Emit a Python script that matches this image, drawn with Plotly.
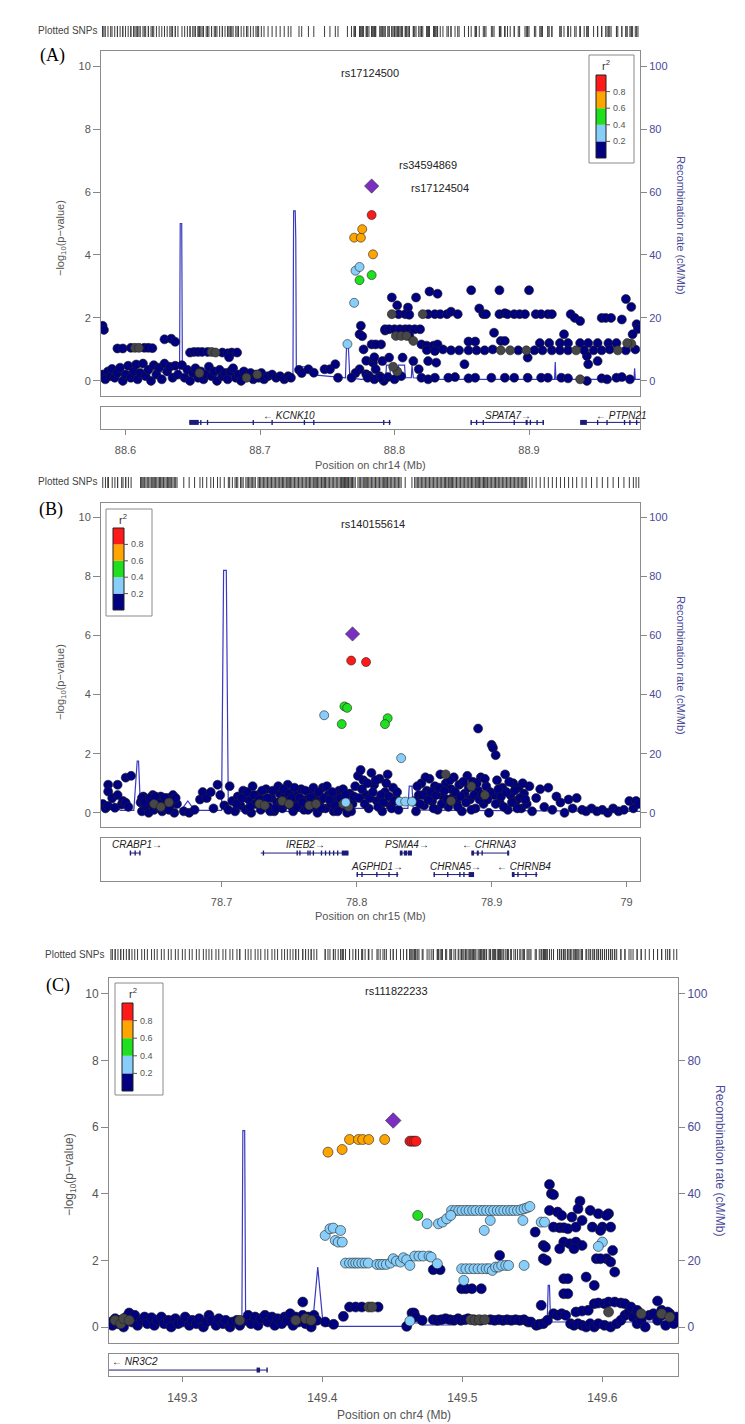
import plotly.graph_objects as go

W, H = 745, 1424
FONT = "Liberation Sans, Arial, sans-serif"

# ======================= DATA =======================
# ---------- Panel A : chr14 ----------
A_RANGE = [88.5818, 88.9825]
A_TICKS = [88.6, 88.7, 88.8, 88.9]
A_TICKTEXT = ["88.6", "88.7", "88.8", "88.9"]
A_XLABEL = "Position on chr14 (Mb)"
A_NAVY = [
    (88.583, 1.75), (88.584, 1.62),
    (88.594, 1.03), (88.598, 1.03), (88.604, 1.05), (88.614, 1.05), (88.617, 1.05), (88.620, 1.04),
    (88.629, 1.32), (88.634, 1.34), (88.637, 1.24),
    (88.648, 0.9), (88.651, 0.92), (88.654, 0.92), (88.657, 0.92), (88.661, 0.92), (88.672, 0.9),
    (88.676, 0.88), (88.679, 0.9), (88.677, 0.75), (88.683, 0.9),
    (88.583, 0.2), (88.585, 0.05), (88.587, 0.3), (88.589, 0.15), (88.590, 0.38), (88.592, 0.1),
    (88.594, 0.25), (88.596, 0.42), (88.598, 0.0), (88.600, 0.2), (88.602, 0.48), (88.604, 0.1),
    (88.606, 0.3), (88.608, 0.52), (88.609, 0.05), (88.611, 0.25), (88.613, 0.55), (88.615, 0.15),
    (88.617, 0.35), (88.619, 0.0), (88.621, 0.5), (88.623, 0.2), (88.625, 0.42), (88.627, 0.05),
    (88.629, 0.55), (88.631, 0.3), (88.633, 0.45), (88.635, 0.1), (88.637, 0.48), (88.639, 0.2),
    (88.642, 0.5), (88.644, 0.1), (88.646, 0.35), (88.648, 0.0), (88.650, 0.25), (88.652, 0.4),
    (88.654, 0.1), (88.656, 0.3), (88.658, 0.05), (88.660, 0.2), (88.662, 0.45), (88.664, 0.15),
    (88.666, 0.3), (88.668, 0.0), (88.670, 0.35), (88.672, 0.15), (88.674, 0.25), (88.676, 0.05),
    (88.678, 0.3), (88.680, 0.4), (88.682, 0.1), (88.684, 0.2), (88.686, 0.0), (88.688, 0.3),
    (88.691, 0.15), (88.693, 0.25), (88.695, 0.05), (88.697, 0.2), (88.699, 0.1), (88.701, 0.25),
    (88.703, 0.05), (88.706, 0.15), (88.709, 0.2), (88.712, 0.1), (88.715, 0.15), (88.718, 0.05),
    (88.721, 0.15), (88.723, 0.1),
    (88.729, 0.35), (88.731, 0.25), (88.736, 0.37), (88.740, 0.26), (88.748, 0.37), (88.752, 0.37),
    (88.756, 0.53), (88.758, 0.1),
    (88.775, 1.75), (88.774, 1.48), (88.776, 1.42), (88.777, 1.0), (88.783, 1.16), (88.790, 1.16),
    (88.779, 0.64), (88.784, 0.58), (88.774, 0.37), (88.779, 0.21), (88.781, 0.16), (88.792, 0.0),
    (88.789, 0.15), (88.793, 1.6), (88.786, 0.37), (88.771, 0.25), (88.768, 0.1),
    (88.798, 2.65), (88.816, 2.65), (88.802, 2.4), (88.810, 2.33), (88.826, 2.84), (88.832, 2.77),
    (88.857, 2.88), (88.878, 2.88), (88.900, 2.88),
    (88.803, 2.12), (88.808, 2.12), (88.811, 2.1), (88.825, 2.12), (88.830, 2.12), (88.834, 2.12),
    (88.839, 2.12), (88.842, 2.2), (88.847, 2.12), (88.863, 2.3), (88.866, 2.12), (88.868, 2.12),
    (88.878, 2.12), (88.882, 2.15), (88.884, 2.12), (88.889, 2.12), (88.893, 2.12), (88.897, 2.12),
    (88.905, 2.12), (88.909, 2.12), (88.914, 2.12), (88.917, 2.12), (88.931, 2.12), (88.934, 2.0),
    (88.938, 1.9), (88.954, 2.0), (88.957, 2.0), (88.961, 2.0), (88.969, 1.95), (88.972, 2.6),
    (88.976, 2.35), (88.980, 1.8), (88.981, 1.65),
    (88.793, 1.64), (88.796, 1.64), (88.800, 1.64), (88.804, 1.64), (88.808, 1.64), (88.811, 1.64),
    (88.815, 1.64), (88.819, 1.64), (88.811, 1.43),
    (88.874, 1.53), (88.926, 1.48), (88.852, 0.53), (88.899, 0.74), (88.943, 0.79), (88.944, 0.53),
    (88.951, 0.63), (88.977, 1.48),
    (88.786, 1.16), (88.820, 1.16), (88.824, 1.12), (88.829, 1.12), (88.832, 1.16), (88.855, 1.25),
    (88.860, 1.25), (88.879, 1.27), (88.882, 1.27), (88.908, 1.2), (88.915, 1.2), (88.923, 1.2),
    (88.929, 1.2), (88.938, 1.2), (88.944, 1.2), (88.951, 1.2), (88.959, 1.2), (88.965, 1.2),
    (88.824, 0.98), (88.830, 0.95), (88.836, 1.0), (88.842, 0.97), (88.848, 0.97), (88.855, 0.97),
    (88.861, 0.97), (88.867, 0.97), (88.873, 1.0), (88.892, 0.97), (88.904, 0.97), (88.910, 0.97),
    (88.917, 0.97), (88.923, 0.97), (88.929, 0.97), (88.941, 0.97), (88.948, 0.97), (88.954, 0.97),
    (88.960, 1.0), (88.972, 0.97), (88.979, 1.0),
    (88.780, 0.1), (88.785, 0.05), (88.790, 0.1), (88.795, 0.12), (88.800, 0.05), (88.805, 0.15),
    (88.820, 0.1), (88.825, 0.05), (88.830, 0.1), (88.840, 0.1), (88.845, 0.12), (88.855, 0.08),
    (88.860, 0.1), (88.872, 0.1), (88.882, 0.1), (88.889, 0.1), (88.899, 0.1), (88.909, 0.1),
    (88.914, 0.1), (88.924, 0.1), (88.929, 0.08), (88.943, 0.0), (88.954, 0.08), (88.958, 0.05),
    (88.965, 0.1), (88.969, 0.12), (88.975, 0.05),
    (88.785, 0.75), (88.791, 0.63), (88.796, 0.74), (88.806, 0.74), (88.814, 0.63), (88.818, 0.37),
    (88.825, 0.63), (88.831, 0.58),
]
A_GRAY = [
    (88.607, 1.05), (88.610, 1.05), (88.664, 0.92), (88.667, 0.9), (88.655, 0.25), (88.690, 0.1),
    (88.698, 0.2), (88.798, 2.12), (88.821, 2.12), (88.801, 1.43), (88.805, 1.43), (88.809, 1.43),
    (88.814, 1.27), (88.879, 0.97), (88.886, 0.97), (88.898, 0.97), (88.935, 0.97), (88.966, 0.97),
    (88.938, 0.05), (88.976, 1.18), (88.973, 1.2), (88.802, 0.3), (88.799, 0.45),
]
A_LBLUE = [(88.765, 1.17), (88.770, 2.48), (88.771, 3.5), (88.774, 3.62)]
A_GREEN = [(88.774, 3.2), (88.783, 3.36)]
A_ORANGE = [(88.770, 4.55), (88.775, 4.55), (88.776, 4.82), (88.784, 4.02)]
A_RED = [(88.783, 5.27)]
A_LEAD = [(88.783, 6.19)]
A_RECOMB = [
    (88.5818, 2.0), (88.590, 2.5), (88.600, 3.0), (88.612, 3.0), (88.620, 3.5), (88.630, 2.5),
    (88.6402, 2.0), (88.6407, 50), (88.6418, 50), (88.6423, 4.0), (88.650, 3.0), (88.660, 2.0),
    (88.680, 1.5), (88.700, 1.5), (88.715, 2.0), (88.7245, 1.5), (88.7250, 54), (88.7262, 54),
    (88.7266, 45), (88.7270, 4.5), (88.735, 4.5), (88.738, 2.0), (88.750, 1.5), (88.7635, 1.0),
    (88.7645, 12.7), (88.7655, 12.7), (88.7668, 1.0), (88.775, 0.5), (88.790, 0.8), (88.7935, 1.0),
    (88.794, 5.0), (88.7965, 5.0), (88.797, 1.0), (88.8025, 1.0), (88.803, 5.0), (88.8075, 5.0),
    (88.808, 1.0), (88.8125, 1.0), (88.813, 5.0), (88.814, 1.0), (88.830, 0.5), (88.919, 0.5),
    (88.9195, 6.0), (88.920, 0.5), (88.978, 0.5), (88.9785, 4.0), (88.979, 0.5), (88.9825, 0.5),
]
# gene: name, start, end, strand, label x, row, exons
A_GENES = [
    ("KCNK10", 88.6474, 88.7973, "-", 88.7214, 0,
     [(88.6474, 88.6545), (88.6555, 88.6565), (88.6605, 88.6615), (88.6945, 88.6955),
      (88.7085, 88.7095), (88.7325, 88.7335), (88.7395, 88.7405), (88.7915, 88.7925),
      (88.7958, 88.7968)]),
    ("SPATA7", 88.8565, 88.9111, "+", 88.884, 0,
     [(88.8565, 88.8575), (88.8605, 88.8615), (88.8655, 88.8665), (88.8885, 88.8895),
      (88.8975, 88.8990), (88.9005, 88.9015), (88.9055, 88.9065), (88.9100, 88.9111)]),
    ("PTPN21", 88.938, 88.995, "-", 88.969, 0,
     [(88.938, 88.943), (88.9505, 88.9515), (88.9575, 88.9585), (88.9705, 88.9715),
      (88.9745, 88.9755), (88.9795, 88.9805)]),
]
A_SNP_LABELS = [("rs17124500", 88.7818, 9.78), ("rs34594869", 88.825, 6.86),
                ("rs17124504", 88.834, 6.13)]

# ---------- Panel B : chr15 ----------
B_RANGE = [78.6107, 79.0099]
B_TICKS = [78.7, 78.8, 78.9, 79.0]
B_TICKTEXT = ["78.7", "78.8", "78.9", "79"]
B_XLABEL = "Position on chr15 (Mb)"
B_NAVY = [
    (78.612, 0.3), (78.614, 0.15), (78.616, 0.95), (78.616, 0.72), (78.616, 0.23), (78.619, 0.5),
    (78.621, 0.17), (78.623, 0.95), (78.623, 0.6), (78.626, 0.28), (78.627, 0.4), (78.629, 1.19),
    (78.629, 0.34), (78.633, 1.25), (78.631, 0.2),
    (78.640, 0.35), (78.641, 0.05), (78.642, 0.55), (78.644, 0.2), (78.645, 0.45), (78.646, 0.0),
    (78.648, 0.3), (78.649, 0.6), (78.650, 0.1), (78.652, 0.4), (78.653, 0.2), (78.655, 0.55),
    (78.656, 0.05), (78.657, 0.35), (78.659, 0.15), (78.660, 0.5), (78.662, 0.25), (78.664, 0.6),
    (78.665, 0.0), (78.667, 0.3),
    (78.641, 0.5), (78.643, 0.35), (78.647, 0.5), (78.651, 0.55), (78.654, 0.3), (78.658, 0.5),
    (78.661, 0.1), (78.663, 0.4), (78.666, 0.5),
    (78.672, 0.05), (78.676, 0.0), (78.680, 0.1), (78.684, 0.45), (78.686, 0.7), (78.689, 0.5),
    (78.692, 0.7), (78.694, 0.15), (78.697, 0.95), (78.699, 0.6), (78.702, 0.25), (78.705, 0.1),
    (78.706, 0.9), (78.708, 0.4),
    (78.710, 0.05), (78.712, 0.55), (78.714, 0.25), (78.716, 0.75), (78.718, 0.1), (78.720, 0.45),
    (78.722, 0.0), (78.723, 0.9), (78.725, 0.3), (78.727, 0.6), (78.729, 0.1), (78.731, 0.45),
    (78.733, 0.8), (78.735, 0.2), (78.737, 0.5), (78.739, 0.05), (78.741, 0.35), (78.743, 0.65),
    (78.745, 0.15), (78.747, 0.55), (78.749, 0.95), (78.751, 0.25), (78.753, 0.05), (78.755, 0.6),
    (78.757, 0.35), (78.759, 0.8), (78.761, 0.1), (78.763, 0.45), (78.765, 0.7), (78.767, 0.2),
    (78.769, 0.55), (78.771, 0.0), (78.773, 0.4), (78.775, 0.85), (78.777, 0.15), (78.779, 0.6),
    (78.781, 0.3), (78.783, 0.05), (78.785, 0.5), (78.787, 0.75), (78.789, 0.2), (78.791, 0.45),
    (78.793, 0.0), (78.795, 0.65), (78.797, 0.3), (78.799, 0.9),
    (78.711, 0.3), (78.715, 0.5), (78.719, 0.7), (78.721, 0.2), (78.724, 0.6), (78.728, 0.45),
    (78.730, 0.75), (78.734, 0.5), (78.736, 0.05), (78.738, 0.75), (78.740, 0.15), (78.742, 0.9),
    (78.744, 0.4), (78.746, 0.8), (78.748, 0.3), (78.750, 0.65), (78.752, 0.5), (78.754, 0.85),
    (78.756, 0.2), (78.758, 0.5), (78.760, 0.35), (78.762, 0.75), (78.764, 0.1), (78.766, 0.5),
    (78.768, 0.85), (78.770, 0.35), (78.772, 0.7), (78.774, 0.15), (78.776, 0.5), (78.778, 0.9),
    (78.780, 0.45), (78.782, 0.7), (78.784, 0.25), (78.786, 0.05), (78.788, 0.5), (78.790, 0.8),
    (78.792, 0.6), (78.794, 0.35), (78.796, 0.05), (78.798, 0.55),
    (78.801, 1.25), (78.803, 1.45), (78.805, 1.1), (78.807, 0.6), (78.809, 0.15), (78.811, 1.35),
    (78.813, 0.95), (78.815, 0.4), (78.817, 1.15), (78.819, 0.05), (78.821, 0.7), (78.823, 1.3),
    (78.825, 0.25), (78.827, 0.85), (78.829, 0.5), (78.831, 0.1),
    (78.802, 0.5), (78.804, 0.8), (78.806, 0.3), (78.808, 1.0), (78.810, 0.5), (78.812, 0.7),
    (78.814, 1.1), (78.816, 0.2), (78.818, 0.6), (78.820, 0.35), (78.822, 1.0), (78.824, 0.55),
    (78.826, 0.15), (78.828, 0.4), (78.830, 0.7),
    (78.844, 0.05), (78.846, 0.6), (78.848, 1.0), (78.850, 0.25), (78.852, 0.75), (78.854, 1.15),
    (78.856, 0.4), (78.858, 0.9),
    (78.860, 0.1), (78.862, 1.3), (78.864, 0.55), (78.866, 1.0), (78.868, 0.2), (78.870, 0.8),
    (78.872, 1.2), (78.874, 0.35), (78.876, 0.95), (78.878, 0.05), (78.880, 0.65), (78.882, 1.25),
    (78.884, 0.45), (78.886, 1.05), (78.888, 0.15), (78.890, 2.85), (78.890, 0.75), (78.892, 1.2),
    (78.894, 0.3), (78.896, 0.9), (78.898, 0.0), (78.900, 2.3), (78.901, 2.2), (78.902, 0.6),
    (78.903, 1.95), (78.904, 1.1), (78.906, 0.35), (78.908, 0.85), (78.910, 1.3), (78.912, 0.1),
    (78.914, 0.6), (78.916, 1.0), (78.918, 0.4), (78.920, 0.85), (78.922, 0.15), (78.924, 0.65),
    (78.926, 0.3), (78.928, 0.9), (78.930, 0.05),
    (78.843, 0.4), (78.845, 0.9), (78.847, 0.3), (78.849, 0.6), (78.851, 1.2), (78.853, 0.45),
    (78.855, 0.7), (78.857, 0.15), (78.859, 0.6), (78.861, 0.85), (78.863, 0.3), (78.865, 0.75),
    (78.867, 0.45), (78.869, 1.1), (78.871, 0.5), (78.873, 0.7), (78.875, 0.2), (78.877, 0.55),
    (78.879, 1.05), (78.881, 0.35), (78.883, 0.85), (78.885, 0.1), (78.887, 0.6), (78.889, 1.0),
    (78.891, 0.45), (78.893, 0.6), (78.895, 1.15), (78.897, 0.45), (78.899, 0.7), (78.903, 0.3),
    (78.905, 0.8), (78.907, 0.55), (78.909, 0.2), (78.911, 0.7), (78.913, 1.05), (78.915, 0.35),
    (78.917, 0.75), (78.919, 0.15), (78.921, 0.5), (78.923, 1.0), (78.925, 0.45),
    (78.933, 0.5), (78.936, 0.8), (78.939, 0.2), (78.942, 0.85), (78.945, 0.1), (78.948, 0.55),
    (78.951, 0.35), (78.954, 0.0), (78.957, 0.45), (78.960, 0.15), (78.963, 0.5), (78.967, 0.1),
    (78.970, 0.05), (78.974, 0.15), (78.978, 0.05), (78.982, 0.1), (78.986, 0.0), (78.990, 0.15),
    (78.994, 0.05), (78.998, 0.1), (79.002, 0.4), (79.005, 0.15), (79.007, 0.4), (79.009, 0.3),
]
B_GRAY = [
    (78.650, 0.3), (78.655, 0.2), (78.661, 0.35), (78.728, 0.3), (78.732, 0.25), (78.745, 0.4),
    (78.750, 0.3), (78.765, 0.25), (78.770, 0.3), (78.790, 0.3), (78.794, 0.2), (78.870, 0.4),
    (78.885, 0.9), (78.895, 0.6), (78.866, 1.3),
]
B_LBLUE = [(78.776, 3.3), (78.833, 1.85), (78.792, 0.35), (78.832, 0.38), (78.836, 0.38),
           (78.841, 0.38)]
B_GREEN = [(78.791, 3.6), (78.793, 3.55), (78.789, 3.0), (78.823, 3.2), (78.821, 3.0)]
B_ORANGE = []
B_RED = [(78.796, 5.15), (78.807, 5.1)]
B_LEAD = [(78.797, 6.05)]
B_RECOMB = [
    (78.6107, 3.5), (78.620, 3.5), (78.625, 0.8), (78.635, 0.8), (78.6375, 17.5), (78.6385, 17.5),
    (78.640, 0.8), (78.650, 0.8), (78.655, 5.0), (78.658, 0.5), (78.662, 0.5), (78.666, 4.5),
    (78.670, 0.8), (78.675, 4.0), (78.680, 0.8), (78.700, 0.8), (78.7015, 82), (78.7035, 82),
    (78.705, 0.8), (78.720, 0.5), (78.760, 0.5), (78.800, 1.5), (78.838, 1.5), (78.839, 9.0),
    (78.841, 9.0), (78.842, 1.0), (78.870, 0.8), (78.950, 0.5), (79.0099, 0.5),
]
B_GENES = [
    ("CRABP1", 78.632, 78.640, "+", 78.637, 0,
     [(78.632, 78.633), (78.6355, 78.6365), (78.639, 78.640)]),
    ("IREB2", 78.729, 78.794, "+", 78.762, 0,
     [(78.7305, 78.7315), (78.7555, 78.7565), (78.7575, 78.7585), (78.7635, 78.7645),
      (78.765, 78.766), (78.7675, 78.7685), (78.7735, 78.7745), (78.7765, 78.7775),
      (78.7795, 78.7805), (78.7825, 78.7835), (78.7855, 78.7865), (78.789, 78.794)]),
    ("PSMA4", 78.832, 78.841, "+", 78.837, 0,
     [(78.832, 78.834), (78.835, 78.8375), (78.838, 78.841)]),
    ("CHRNA3", 78.885, 78.913, "-", 78.898, 0,
     [(78.885, 78.887), (78.889, 78.8905), (78.8925, 78.8935), (78.9115, 78.913)]),
    ("AGPHD1", 78.800, 78.831, "+", 78.815, 1,
     [(78.800, 78.801), (78.8035, 78.8045), (78.8145, 78.8155), (78.8235, 78.8245),
      (78.8295, 78.8305)]),
    ("CHRNA5", 78.857, 78.887, "+", 78.873, 1,
     [(78.857, 78.858), (78.867, 78.868), (78.876, 78.877), (78.879, 78.880), (78.883, 78.887)]),
    ("CHRNB4", 78.915, 78.934, "-", 78.924, 1,
     [(78.915, 78.917), (78.919, 78.920), (78.925, 78.926), (78.9325, 78.9335)]),
]
B_SNP_LABELS = [("rs140155614", 78.812, 9.76)]

# ---------- Panel C : chr4 ----------
C_RANGE = [149.2476, 149.654]
C_TICKS = [149.3, 149.4, 149.5, 149.6]
C_TICKTEXT = ["149.3", "149.4", "149.5", "149.6"]
C_XLABEL = "Position on chr4 (Mb)"
C_NAVY = [
    (149.249, 0.15), (149.250, 0.05), (149.252, 0.25), (149.254, 0.1), (149.256, 0.2), (149.258, 0.0),
    (149.260, 0.3), (149.262, 0.42), (149.264, 0.15), (149.266, 0.35), (149.268, 0.05), (149.271, 0.2),
    (149.273, 0.3), (149.275, 0.1), (149.278, 0.28), (149.280, 0.05), (149.282, 0.2), (149.285, 0.3),
    (149.287, 0.1), (149.290, 0.2), (149.292, 0.0), (149.295, 0.25), (149.297, 0.1), (149.300, 0.15),
    (149.302, 0.3), (149.305, 0.05), (149.307, 0.2), (149.310, 0.1), (149.312, 0.25), (149.315, 0.0),
    (149.317, 0.15), (149.319, 0.35), (149.321, 0.2), (149.324, 0.05), (149.326, 0.25), (149.329, 0.1),
    (149.331, 0.2), (149.334, 0.0), (149.336, 0.15), (149.339, 0.2), (149.341, 0.05), (149.345, 0.2),
    (149.347, 0.35), (149.349, 0.1), (149.352, 0.3), (149.354, 0.05), (149.356, 0.25), (149.359, 0.35),
    (149.361, 0.15), (149.364, 0.3), (149.366, 0.05), (149.368, 0.25), (149.371, 0.1), (149.373, 0.3),
    (149.375, 0.2), (149.377, 0.4), (149.379, 0.05), (149.381, 0.3), (149.383, 0.15), (149.386, 0.75),
    (149.386, 0.35), (149.388, 0.1), (149.390, 0.3), (149.392, 0.0), (149.394, 0.35), (149.396, 0.2),
    (149.402, 0.15), (149.408, 0.08), (149.415, 0.32),
    (149.4194, 0.6), (149.4238, 0.6), (149.4282, 0.6), (149.4398, 0.6),
    (149.4602, 0.02), (149.4640, 0.42), (149.4655, 0.42), (149.4666, 0.3), (149.4713, 0.2),
    (149.4792, 0.22), (149.4821, 0.2), (149.485, 0.22), (149.488, 0.25), (149.491, 0.22),
    (149.494, 0.2), (149.497, 0.25), (149.499, 0.2), (149.502, 0.22), (149.504, 0.25),
    (149.508, 0.22), (149.513, 0.2), (149.520, 0.22), (149.523, 0.2), (149.526, 0.22),
    (149.529, 0.2), (149.532, 0.22), (149.535, 0.2), (149.538, 0.22), (149.541, 0.2), (149.544, 0.22),
    (149.547, 0.15),
    (149.549, 0.15), (149.5528, 0.05), (149.5549, 0.08), (149.5563, 0.65), (149.5578, 0.1),
    (149.5607, 0.2), (149.5651, 0.4), (149.568, 0.35), (149.5709, 0.4), (149.5738, 0.35),
    (149.5773, 0.1), (149.5797, 0.05), (149.5826, 0.1), (149.5855, 0.05), (149.5884, 0.0),
    (149.5913, 0.1), (149.5942, 0.0), (149.5971, 0.1), (149.6015, 0.05), (149.6059, 0.0),
    (149.6102, 0.1), (149.6132, 0.2), (149.6161, 0.35), (149.619, 0.45), (149.6219, 0.3),
    (149.6248, 0.1), (149.6277, 0.2), (149.6306, 0.0), (149.6335, 0.35), (149.6365, 0.4),
    (149.6394, 0.2), (149.6423, 0.35), (149.6452, 0.05), (149.6481, 0.4), (149.651, 0.1),
    (149.6531, 0.3),
    (149.5811, 0.45), (149.5855, 0.48), (149.5899, 0.5), (149.5942, 0.7), (149.5971, 0.72),
    (149.6015, 0.7), (149.6044, 0.75), (149.6088, 0.75), (149.6132, 0.72), (149.6161, 0.7),
    (149.6204, 0.6), (149.6248, 0.5), (149.6394, 0.78), (149.6423, 0.5), (149.6466, 0.45),
    (149.4792, 1.72), (149.4841, 1.72), (149.4995, 1.15), (149.5025, 1.15), (149.5068, 1.15),
    (149.5135, 1.15), (149.5266, 2.15),
    (149.5622, 4.28), (149.5636, 4.0), (149.5651, 3.97), (149.5840, 3.78), (149.5826, 3.55),
    (149.5913, 3.5), (149.5971, 3.4), (149.6044, 3.4), (149.5520, 2.85), (149.5578, 2.45),
    (149.5593, 2.4), (149.5578, 2.05), (149.5599, 2.0), (149.5622, 3.5), (149.5680, 3.45),
    (149.5709, 3.35), (149.5782, 3.3), (149.5651, 3.0), (149.5695, 2.98), (149.5724, 2.98),
    (149.5753, 2.95), (149.5811, 3.0), (149.5855, 3.2), (149.5928, 3.0), (149.6000, 3.0),
    (149.6059, 3.0), (149.6029, 2.05), (149.6059, 1.95), (149.6073, 2.3), (149.6088, 1.65),
    (149.5957, 2.05), (149.5986, 2.05), (149.5724, 2.55), (149.5768, 2.5), (149.5811, 2.55),
    (149.5855, 2.45), (149.5695, 2.35), (149.5797, 2.35), (149.5724, 1.45), (149.5753, 1.45),
    (149.5884, 1.5), (149.5724, 1.0), (149.5753, 1.0), (149.5942, 1.25), (149.6029, 3.35),
    (149.5986, 2.9),
]
C_GRAY = [
    (149.252, 0.2), (149.256, 0.1), (149.258, 0.25), (149.262, 0.2), (149.341, 0.2), (149.381, 0.2),
    (149.388, 0.25), (149.392, 0.2), (149.4331, 0.6), (149.4355, 0.6), (149.506, 0.22),
    (149.509, 0.2), (149.512, 0.22), (149.516, 0.22), (149.6044, 0.45), (149.6277, 0.4),
    (149.6423, 0.4), (149.6481, 0.3),
]
C_LBLUE = [
    (149.4923, 3.5), (149.4952, 3.5), (149.4975, 3.5), (149.4998, 3.5), (149.5025, 3.5),
    (149.5048, 3.5), (149.5074, 3.5), (149.5097, 3.5), (149.5127, 3.5), (149.5150, 3.5),
    (149.5173, 3.5), (149.5199, 3.5), (149.5223, 3.5), (149.5249, 3.5), (149.5272, 3.5),
    (149.5296, 3.5), (149.5322, 3.5), (149.5345, 3.5), (149.5368, 3.5), (149.5394, 3.5),
    (149.5418, 3.52), (149.5441, 3.55), (149.5462, 3.58), (149.5482, 3.62),
    (149.4748, 3.1), (149.4829, 3.1), (149.4858, 3.15), (149.4888, 3.25), (149.4917, 3.35),
    (149.5199, 3.2), (149.5156, 2.9), (149.5432, 3.2),
    (149.4020, 2.75), (149.4054, 2.95), (149.4078, 2.97), (149.4092, 2.6), (149.4113, 2.55),
    (149.4142, 2.55), (149.4130, 2.9),
    (149.4165, 1.92), (149.4194, 1.92), (149.4218, 1.92), (149.4238, 1.92), (149.4258, 1.92),
    (149.4282, 1.92), (149.4305, 1.92), (149.4328, 1.92), (149.4390, 1.88), (149.4413, 1.88),
    (149.4433, 1.88), (149.4457, 1.88), (149.4486, 1.92), (149.4506, 2.05), (149.4529, 1.98),
    (149.4558, 1.95), (149.4579, 2.08), (149.4602, 2.02), (149.4625, 1.85), (149.4660, 2.13),
    (149.4690, 2.13), (149.4719, 2.13), (149.4762, 2.13), (149.4777, 2.1), (149.4821, 1.9),
    (149.4995, 1.75), (149.5025, 1.75), (149.5054, 1.75), (149.5083, 1.75), (149.5112, 1.75),
    (149.5141, 1.75), (149.5170, 1.75), (149.5191, 1.75), (149.5214, 1.7), (149.5237, 1.8),
    (149.5258, 1.8), (149.5281, 1.85), (149.5310, 1.85), (149.5330, 1.85), (149.5441, 1.85),
    (149.5010, 1.4), (149.6000, 2.55), (149.5971, 2.42), (149.5563, 3.15), (149.5587, 3.15),
    (149.4625, 0.18),
]
C_GREEN = [(149.4681, 3.35)]
C_ORANGE = [(149.4040, 5.25), (149.4141, 5.33), (149.4194, 5.63), (149.4258, 5.63),
            (149.4288, 5.63), (149.4331, 5.63), (149.4445, 5.63)]
C_RED = [(149.4625, 5.58), (149.4640, 5.58), (149.4655, 5.58), (149.4669, 5.58)]
C_LEAD = [(149.4506, 6.2)]
C_RECOMB = [
    (149.2476, 0.8), (149.300, 0.8), (149.3425, 0.8), (149.3432, 59), (149.3445, 59),
    (149.3452, 0.8), (149.393, 0.8), (149.3967, 18), (149.4005, 0.8), (149.402, 0.2),
    (149.460, 0.2), (149.462, 1.2), (149.470, 1.2), (149.472, 0.6), (149.4923, 0.6),
    (149.4925, 2.0), (149.5447, 2.0), (149.545, 0.5), (149.5605, 0.5), (149.5613, 12.5),
    (149.5622, 12.5), (149.563, 1.5), (149.654, 1.5),
]
C_GENES = [
    ("NR3C2", 149.15, 149.3606, "-", 149.2485, 0,
     [(149.3530, 149.3555), (149.3600, 149.3610)]),
]
C_SNP_LABELS = [("rs111822233", 149.453, 10.08)]

# LD legend (r^2 bins)
LD_BREAKS = [0.2, 0.4, 0.6, 0.8]
LD_BREAK_TEXT = ["0.2", "0.4", "0.6", "0.8"]
LD_COLORS = ["#000080", "#87CEFA", "#1FE01F", "#FFA500", "#FF1A1A"]

PANEL_DATA = [
    dict(tag="(A)", rng=A_RANGE, ticks=A_TICKS, ticktext=A_TICKTEXT, xlabel=A_XLABEL,
         navy=A_NAVY, gray=A_GRAY, lblue=A_LBLUE, green=A_GREEN, orange=A_ORANGE, red=A_RED,
         lead=A_LEAD, recomb=A_RECOMB, genes=A_GENES, labels=A_SNP_LABELS),
    dict(tag="(B)", rng=B_RANGE, ticks=B_TICKS, ticktext=B_TICKTEXT, xlabel=B_XLABEL,
         navy=B_NAVY, gray=B_GRAY, lblue=B_LBLUE, green=B_GREEN, orange=B_ORANGE, red=B_RED,
         lead=B_LEAD, recomb=B_RECOMB, genes=B_GENES, labels=B_SNP_LABELS),
    dict(tag="(C)", rng=C_RANGE, ticks=C_TICKS, ticktext=C_TICKTEXT, xlabel=C_XLABEL,
         navy=C_NAVY, gray=C_GRAY, lblue=C_LBLUE, green=C_GREEN, orange=C_ORANGE, red=C_RED,
         lead=C_LEAD, recomb=C_RECOMB, genes=C_GENES, labels=C_SNP_LABELS),
]

# ======================= LAYOUT (pixels) =======================
PANEL_LAYOUT = [
    dict(box_x=(93, 632), box_y=(43, 388), gene_y=(399, 421), rug_y=(18, 29), rug_lab=(91, 23),
         tag=(44, 48), xlab_y=457, ylab=(53, 230), rlab=(673, 217),
         leg_box=(581, 47, 626, 155), leg_bar=(588, 67, 598, 150),
         gene_rows=[(0.62, 0.30)], fs=11, ms=9, lms=11),
    dict(box_x=(93, 632), box_y=(495, 819), gene_y=(830, 873), rug_y=(469, 480), rug_lab=(91, 474),
         tag=(43, 501), xlab_y=908, ylab=(53, 674), rlab=(673, 657),
         leg_box=(98, 501, 144, 608), leg_bar=(105, 520, 116, 602),
         gene_rows=[(0.84, 0.65), (0.34, 0.15)], fs=11, ms=9, lms=11),
    dict(box_x=(101, 670), box_y=(970, 1335), gene_y=(1346, 1368), rug_y=(941, 952), rug_lab=(98, 946),
         tag=(50, 977), xlab_y=1407, ylab=(62, 1167), rlab=(712, 1152),
         leg_box=(107, 975, 155, 1087), leg_bar=(114, 995, 125, 1083),
         gene_rows=[(0.66, 0.27)], fs=12, ms=10, lms=12),
]

GRAY_COL = "#474747"
LEAD_COL = "#7B2FC0"
REC_COL = "#3a3ac0"
REC_TXT = "#4a4a98"
BOX_COL = "#8c8c8c"
TXT = "#555555"


def pxx(x):
    return x / W


def pyy(y):
    return 1 - y / H


def key(ref):
    return ref[0] + "axis" + ("" if ref[1:] == "1" else ref[1:])


fig = go.Figure()
annotations = []
shapes = []
layout_axes = {}

for k, (D, L) in enumerate(zip(PANEL_DATA, PANEL_LAYOUT)):
    xm, xg, xr = f"x{3*k+1}", f"x{3*k+2}", f"x{3*k+3}"
    yrec, yp, yg, yr = f"y{4*k+1}", f"y{4*k+2}", f"y{4*k+3}", f"y{4*k+4}"
    xdom = [pxx(L["box_x"][0]), pxx(L["box_x"][1])]

    # recombination (base axis, drawn underneath)
    fig.add_trace(go.Scatter(x=[p[0] for p in D["recomb"]], y=[p[1] for p in D["recomb"]],
                             mode="lines", line=dict(color=REC_COL, width=1.2),
                             xaxis=xm, yaxis=yrec, hoverinfo="skip"))

    ms = L["ms"]
    classes = [(D["navy"], LD_COLORS[0]), (D["gray"], GRAY_COL), (D["lblue"], LD_COLORS[1]),
               (D["green"], LD_COLORS[2]), (D["orange"], LD_COLORS[3]), (D["red"], LD_COLORS[4])]
    for pts, col in classes:
        if not pts:
            continue
        fig.add_trace(go.Scatter(x=[p[0] for p in pts], y=[p[1] for p in pts], mode="markers",
                                 marker=dict(size=ms, color=col, line=dict(color="#222", width=0.6)),
                                 xaxis=xm, yaxis=yp, hoverinfo="skip"))
    fig.add_trace(go.Scatter(x=[p[0] for p in D["lead"]], y=[p[1] for p in D["lead"]], mode="markers",
                             marker=dict(symbol="diamond", size=L["lms"], color=LEAD_COL,
                                         line=dict(color="#333", width=0.6)),
                             xaxis=xm, yaxis=yp, hoverinfo="skip"))

    # rug of plotted SNPs
    allx = sorted(p[0] for grp in ("navy", "gray", "lblue", "green", "orange", "red", "lead")
                  for p in D[grp])
    fig.add_trace(go.Scatter(x=allx, y=[0] * len(allx), mode="markers",
                             marker=dict(symbol="line-ns", size=L["rug_y"][1] - L["rug_y"][0],
                                         line=dict(color="#3c3c3c", width=1)),
                             xaxis=xr, yaxis=yr, hoverinfo="skip"))

    # genes
    for name, s, e, strand, lab_x, row, exons in D["genes"]:
        lab_y, gy = L["gene_rows"][row]
        fig.add_trace(go.Scatter(x=[s, e], y=[gy, gy], mode="lines",
                                 line=dict(color="#1c1c78", width=1), xaxis=xg, yaxis=yg,
                                 hoverinfo="skip"))
        ex_x, ex_y = [], []
        for a, b in exons:
            ex_x += [a, b, None]
            ex_y += [gy, gy, None]
        fig.add_trace(go.Scatter(x=ex_x, y=ex_y, mode="lines",
                                 line=dict(color="#1c1c78", width=5), xaxis=xg, yaxis=yg,
                                 hoverinfo="skip"))
        txt = f"\u2190 {name}" if strand == "-" else f"{name}\u2192"
        annotations.append(dict(text=f"<i>{txt}</i>", x=lab_x, y=lab_y, xref=xg, yref=yg,
                                showarrow=False, xanchor="left" if name == "NR3C2" else "center",
                                yanchor="middle", font=dict(size=10, color="#222", family=FONT)))

    # SNP labels
    for txt, x, y in D["labels"]:
        annotations.append(dict(text=txt, x=x, y=y, xref=xm, yref=yp, showarrow=False,
                                font=dict(size=11, color="#222", family=FONT)))

    # r^2 legend
    bx0, by0_, bx1, by1_ = L["leg_box"]
    cx0, cy0, cx1, cy1 = L["leg_bar"]
    shapes.append(dict(type="rect", xref="paper", yref="paper", x0=pxx(bx0), x1=pxx(bx1),
                       y0=pyy(by1_), y1=pyy(by0_), line=dict(color="#8a8a8a", width=1),
                       fillcolor="white", layer="above"))
    nb = len(LD_COLORS)
    seg = (cy1 - cy0) / nb
    for i, col in enumerate(LD_COLORS):
        top = cy1 - (i + 1) * seg
        bot = cy1 - i * seg
        shapes.append(dict(type="rect", xref="paper", yref="paper", x0=pxx(cx0), x1=pxx(cx1),
                           y0=pyy(bot), y1=pyy(top), line=dict(width=0), fillcolor=col,
                           layer="above"))
    shapes.append(dict(type="rect", xref="paper", yref="paper", x0=pxx(cx0), x1=pxx(cx1),
                       y0=pyy(cy1), y1=pyy(cy0), line=dict(color="#222", width=1),
                       fillcolor="rgba(0,0,0,0)", layer="above"))
    for j, (bv, bt) in enumerate(zip(LD_BREAKS, LD_BREAK_TEXT)):
        yy = cy1 - (j + 1) * seg
        shapes.append(dict(type="line", xref="paper", yref="paper", x0=pxx(cx1), x1=pxx(cx1 + 4),
                           y0=pyy(yy), y1=pyy(yy), line=dict(color="#555", width=1), layer="above"))
        annotations.append(dict(text=bt, x=pxx(cx1 + 5), y=pyy(yy), xref="paper", yref="paper",
                                showarrow=False, xanchor="left", yanchor="middle",
                                font=dict(size=9, color="#555", family=FONT)))
    annotations.append(dict(text="r<sup>2</sup>", x=pxx((cx0 + cx1) / 2 + 5), y=pyy((by0_ + cy0) / 2),
                            xref="paper", yref="paper", showarrow=False, xanchor="center",
                            yanchor="middle", font=dict(size=11, color="#333", family=FONT)))

    # paper annotations
    annotations.append(dict(text=D["tag"], x=pxx(L["tag"][0]), y=pyy(L["tag"][1]), xref="paper",
                            yref="paper", showarrow=False, xanchor="center", yanchor="middle",
                            font=dict(size=18, color="black", family="Liberation Serif, serif")))
    annotations.append(dict(text="Plotted SNPs", x=pxx(L["rug_lab"][0]), y=pyy(L["rug_lab"][1]),
                            xref="paper", yref="paper", showarrow=False, xanchor="right",
                            yanchor="middle", font=dict(size=10, color="#444", family=FONT)))
    annotations.append(dict(text="\u2212log<sub>10</sub>(p\u2212value)", x=pxx(L["ylab"][0]),
                            y=pyy(L["ylab"][1]), xref="paper", yref="paper", showarrow=False,
                            textangle=-90, xanchor="center", yanchor="middle",
                            font=dict(size=L["fs"], color=TXT, family=FONT)))
    annotations.append(dict(text="Recombination rate (cM/Mb)", x=pxx(L["rlab"][0]),
                            y=pyy(L["rlab"][1]), xref="paper", yref="paper", showarrow=False,
                            textangle=90, xanchor="center", yanchor="middle",
                            font=dict(size=L["fs"], color=REC_TXT, family=FONT)))
    annotations.append(dict(text=D["xlabel"], x=(xdom[0] + xdom[1]) / 2, y=pyy(L["xlab_y"]),
                            xref="paper", yref="paper", showarrow=False, xanchor="center",
                            yanchor="middle", font=dict(size=L["fs"], color=TXT, family=FONT)))

    by0, by1 = L["box_y"]
    gy0, gy1 = L["gene_y"]
    ry0, ry1 = L["rug_y"]
    tickfont = dict(size=L["fs"], color=TXT, family=FONT)
    layout_axes[key(xm)] = dict(domain=xdom, range=D["rng"], anchor=yp, showline=True, mirror=True,
                                linecolor=BOX_COL, linewidth=1, showticklabels=False, ticks="",
                                tickvals=[], showgrid=False, zeroline=False)
    layout_axes[key(yrec)] = dict(domain=[pyy(by1), pyy(by0)], anchor=xm, side="right",
                                  range=[-4.8, 104.8], tickvals=[0, 20, 40, 60, 80, 100],
                                  ticks="outside", ticklen=6, tickcolor="#888",
                                  tickfont=dict(size=L["fs"], color=REC_TXT, family=FONT),
                                  showgrid=False, zeroline=False, showline=False)
    layout_axes[key(yp)] = dict(overlaying=yrec, anchor=xm, side="left", range=[-0.48, 10.48],
                                tickvals=[0, 2, 4, 6, 8, 10], ticks="outside", ticklen=7,
                                tickcolor="#888", tickfont=tickfont, showline=True, mirror=True,
                                linecolor=BOX_COL, linewidth=1, showgrid=False, zeroline=False)
    layout_axes[key(xg)] = dict(domain=xdom, range=D["rng"], anchor=yg, tickvals=D["ticks"],
                                ticktext=D["ticktext"], ticks="outside", ticklen=5, tickcolor="#888",
                                tickfont=tickfont, showline=True, mirror=True, linecolor=BOX_COL,
                                linewidth=1, showgrid=False, zeroline=False, ticklabelstandoff=6)
    layout_axes[key(yg)] = dict(domain=[pyy(gy1), pyy(gy0)], anchor=xg, range=[0, 1],
                                showticklabels=False, ticks="", tickvals=[], showline=True,
                                mirror=True, linecolor=BOX_COL, linewidth=1, showgrid=False,
                                zeroline=False)
    layout_axes[key(xr)] = dict(domain=[pxx(L["box_x"][0]), pxx(L["box_x"][1])], range=D["rng"],
                                anchor=yr, visible=False, showticklabels=False, tickvals=[],
                                showgrid=False, zeroline=False)
    layout_axes[key(yr)] = dict(domain=[pyy(ry1), pyy(ry0)], anchor=xr, range=[-1, 1], visible=False,
                                showticklabels=False, tickvals=[], showgrid=False, zeroline=False)

fig.update_layout(
    width=W, height=H, autosize=False, margin=dict(l=0, r=0, t=0, b=0),
    paper_bgcolor="white", plot_bgcolor="white", showlegend=False,
    font=dict(family=FONT, color=TXT), annotations=annotations, shapes=shapes, **layout_axes,
)

fig.write_html("out.html")
